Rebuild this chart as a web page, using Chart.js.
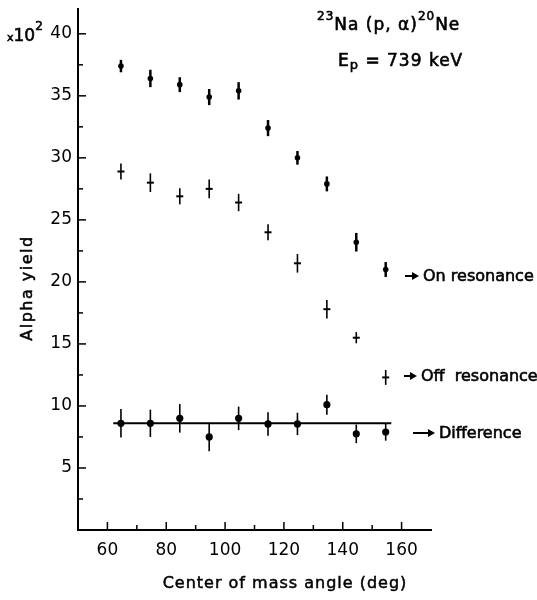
<!DOCTYPE html>
<html>
<head>
<meta charset="utf-8">
<script src="https://cdn.jsdelivr.net/npm/chart.js@4.4.0/dist/chart.umd.min.js"></script>
<style>
  html, body { margin: 0; padding: 0; background: #fff; }
  canvas { display: block; }
</style>
</head>
<body>
<canvas id="yieldChart" width="537" height="600"></canvas>
<script>
// centre of mass angles (deg)
const angles = [64.6, 74.6, 84.6, 94.6, 104.6, 114.6, 124.6, 134.6, 144.6, 154.6];

// alpha yield, units of 10^2
const onRes = [37.4, 36.4, 35.9, 34.9, 35.4, 32.4, 30.0, 27.9, 23.2, 21.0];
const onErr = [0.5, 0.7, 0.6, 0.65, 0.7, 0.65, 0.55, 0.6, 0.75, 0.6];
const offRes = [28.9, 28.0, 26.9, 27.5, 26.4, 24.0, 21.5, 17.8, 15.5, 12.3];
const offErr = [0.65, 0.75, 0.65, 0.75, 0.7, 0.65, 0.75, 0.75, 0.45, 0.6];
const diff = [8.6, 8.6, 9.0, 7.5, 9.0, 8.55, 8.55, 10.1, 7.75, 7.9];
const diffErr = [1.15, 1.1, 1.15, 1.15, 0.95, 0.95, 0.9, 0.8, 0.75, 0.7];

// flat fit through the difference points
const fitX = [62, 156.5];
const fitY = [8.6, 8.6];

const FONT = '"DejaVu Sans", Arial, sans-serif';

function pts(xs, ys) {
  return xs.map((a, i) => ({ x: a, y: ys[i] }));
}

// vertical error bars
const errorBars = {
  id: 'errorBars',
  afterDatasetsDraw(chart) {
    const { ctx, scales: { x, y } } = chart;
    chart.data.datasets.forEach(ds => {
      if (!ds.errors) return;
      ctx.save();
      ctx.strokeStyle = '#000';
      ctx.lineWidth = ds.errWidth;
      ds.data.forEach((p, j) => {
        const px = x.getPixelForValue(p.x);
        ctx.beginPath();
        ctx.moveTo(px, y.getPixelForValue(p.y - ds.errors[j]));
        ctx.lineTo(px, y.getPixelForValue(p.y + ds.errors[j]));
        ctx.stroke();
      });
      ctx.restore();
    });
  }
};

// tick marks pointing into the plot, minor ones shorter
const innerTicks = {
  id: 'innerTicks',
  afterDraw(chart) {
    const { ctx, chartArea, scales: { x, y } } = chart;
    ctx.save();
    ctx.strokeStyle = '#000';
    ctx.lineWidth = 1.5;
    x.ticks.forEach(t => {
      if (t.value <= 50 || t.value >= 170) return;
      const px = x.getPixelForValue(t.value);
      const len = t.value % 20 === 0 ? 8 : 5;
      ctx.beginPath();
      ctx.moveTo(px, chartArea.bottom);
      ctx.lineTo(px, chartArea.bottom - len);
      ctx.stroke();
    });
    y.ticks.forEach(t => {
      if (t.value <= 0) return;
      const py = y.getPixelForValue(t.value);
      const len = t.value % 5 === 0 ? 8 : 5;
      ctx.beginPath();
      ctx.moveTo(chartArea.left, py);
      ctx.lineTo(chartArea.left + len, py);
      ctx.stroke();
    });
    ctx.restore();
  }
};

// text drawn slightly heavier, like the hand lettering
function heavyText(ctx, t, x, y) {
  ctx.fillText(t, x, y);
  ctx.strokeText(t, x, y);
}

// text runs with super/subscripts
function drawRuns(ctx, x, y, runs) {
  runs.forEach(r => {
    ctx.font = r.size + 'px ' + FONT;
    heavyText(ctx, r.t, x, y + (r.dy || 0));
    x += ctx.measureText(r.t).width;
  });
}

function arrow(ctx, x1, x2, y) {
  ctx.beginPath();
  ctx.moveTo(x1, y);
  ctx.lineTo(x2 - 4, y);
  ctx.stroke();
  ctx.beginPath();
  ctx.moveTo(x2, y);
  ctx.lineTo(x2 - 7, y - 4);
  ctx.lineTo(x2 - 7, y + 4);
  ctx.closePath();
  ctx.fill();
}

const annotations = {
  id: 'annotations',
  afterDraw(chart) {
    const ctx = chart.ctx;
    ctx.save();
    ctx.fillStyle = '#000';
    ctx.strokeStyle = '#000';
    ctx.textAlign = 'left';
    ctx.textBaseline = 'alphabetic';
    ctx.lineWidth = 0.6;

    // reaction and beam energy
    ctx.letterSpacing = '1px';
    drawRuns(ctx, 317, 30, [
      { t: '23', size: 12, dy: -10 },
      { t: 'Na (p, α)', size: 17 },
      { t: '20', size: 12, dy: -10 },
      { t: 'Ne', size: 17 }
    ]);
    drawRuns(ctx, 338, 66, [
      { t: 'E', size: 17 },
      { t: 'p', size: 13, dy: 3 },
      { t: ' = 739 keV', size: 17 }
    ]);
    ctx.letterSpacing = '0px';

    // scale factor in front of the top label
    drawRuns(ctx, 7, 41, [
      { t: 'x', size: 11 },
      { t: '10', size: 17 },
      { t: '2', size: 12, dy: -11 }
    ]);

    // series labels
    ctx.textBaseline = 'middle';
    ctx.font = '16px ' + FONT;
    heavyText(ctx, 'On resonance', 423, 277);
    heavyText(ctx, 'Off  resonance', 421, 377);
    heavyText(ctx, 'Difference', 439, 434);
    ctx.lineWidth = 2;
    arrow(ctx, 405, 419, 276);
    arrow(ctx, 404, 417, 376);
    arrow(ctx, 413, 435, 433);

    // axis titles
    ctx.lineWidth = 0.5;
    ctx.textAlign = 'center';
    ctx.font = '16px ' + FONT;
    ctx.letterSpacing = '1px';
    heavyText(ctx, 'Center of mass angle (deg)', 285, 584);
    ctx.letterSpacing = '1.5px';
    ctx.translate(28, 288);
    ctx.rotate(-Math.PI / 2);
    heavyText(ctx, 'Alpha yield', 0, 0);
    ctx.restore();
  }
};

const ctx = document.getElementById('yieldChart').getContext('2d');
new Chart(ctx, {
  type: 'scatter',
  data: {
    datasets: [
      {
        label: 'On resonance',
        data: pts(angles, onRes),
        errors: onErr,
        errWidth: 2.5,
        pointStyle: 'circle',
        pointRadius: 2.8,
        backgroundColor: '#000',
        borderColor: '#000',
        borderWidth: 0
      },
      {
        label: 'Off resonance',
        data: pts(angles, offRes),
        errors: offErr,
        errWidth: 1.6,
        pointStyle: 'line',
        pointRadius: 3.5,
        backgroundColor: '#000',
        borderColor: '#000',
        borderWidth: 2
      },
      {
        label: 'Difference',
        data: pts(angles, diff),
        errors: diffErr,
        errWidth: 1.6,
        pointStyle: 'circle',
        pointRadius: 3.6,
        backgroundColor: '#000',
        borderColor: '#000',
        borderWidth: 0
      },
      {
        type: 'line',
        label: 'Fit',
        data: pts(fitX, fitY),
        borderColor: '#000',
        borderWidth: 2,
        pointRadius: 0,
        fill: false
      }
    ]
  },
  options: {
    responsive: false,
    animation: false,
    layout: { padding: { top: 9, right: 106, bottom: 0, left: 0 } },
    plugins: {
      legend: { display: false },
      tooltip: { enabled: false }
    },
    scales: {
      x: {
        type: 'linear',
        min: 50,
        max: 170,
        border: { display: true, color: '#000', width: 2 },
        grid: { drawOnChartArea: false, drawTicks: false },
        ticks: {
          stepSize: 10,
          padding: 10,
          color: '#000',
          font: { family: FONT, size: 17 },
          maxRotation: 0,
          autoSkip: false,
          callback: v => (v % 20 === 0 && v >= 60 && v <= 160) ? v : ''
        },
        afterFit: scale => {
          scale.height = 70;
          scale.paddingLeft = 0;
          scale.paddingRight = 0;
        }
      },
      y: {
        type: 'linear',
        min: 0,
        max: 42,
        border: { display: true, color: '#000', width: 2 },
        grid: { drawOnChartArea: false, drawTicks: false },
        ticks: {
          stepSize: 2.5,
          includeBounds: false,
          padding: 6,
          color: '#000',
          font: { family: FONT, size: 17 },
          autoSkip: false,
          callback: v => (v % 5 === 0 && v > 0) ? v : ''
        },
        afterFit: scale => {
          scale.width = 78;
          scale.paddingTop = 0;
          scale.paddingBottom = 0;
        }
      }
    }
  },
  plugins: [errorBars, innerTicks, annotations]
});
</script>
</body>
</html>
